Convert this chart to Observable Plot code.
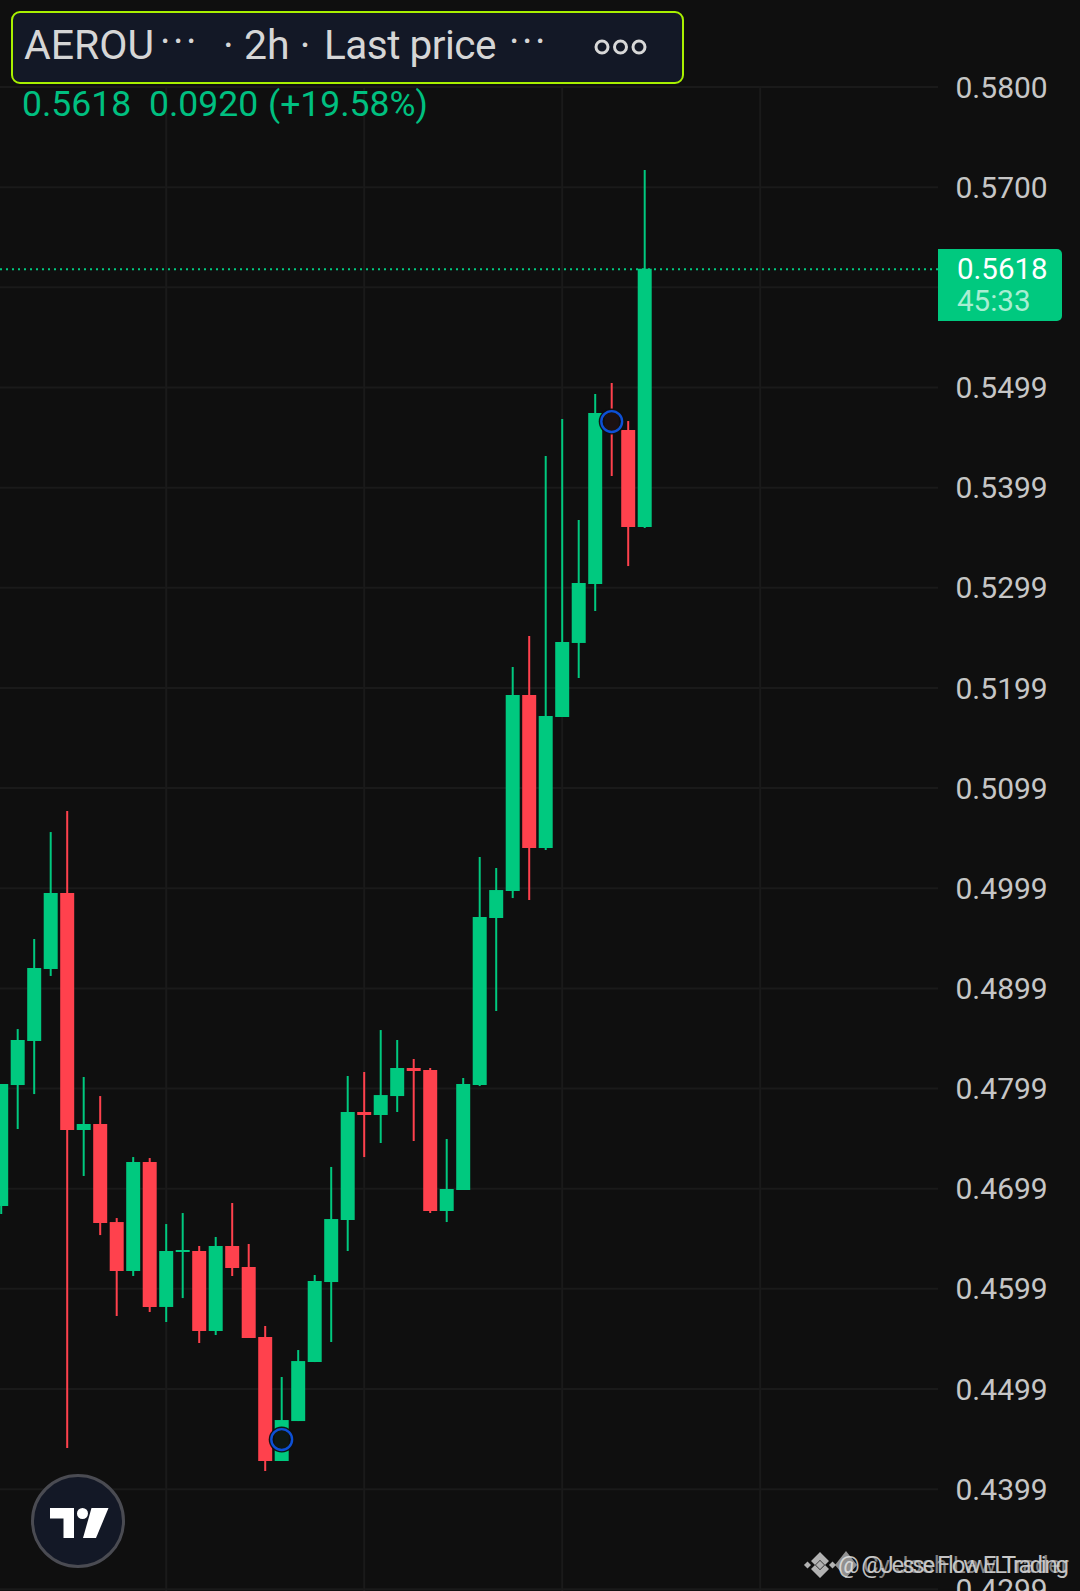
<!DOCTYPE html>
<html>
<head>
<meta charset="utf-8">
<script src="https://cdn.jsdelivr.net/npm/d3@7"></script>
<script src="https://cdn.jsdelivr.net/npm/@observablehq/plot@0.6"></script>
<style>
  html, body { margin: 0; padding: 0; background: #0f0f0f; width: 1080px; height: 1591px; overflow: hidden; }
  #wrap { position: relative; width: 1080px; height: 1591px; overflow: hidden; font-family: Roboto, sans-serif; }
  #chart svg { display: block; }
  .abs { position: absolute; white-space: pre; line-height: 1; }
  #header { position: absolute; left: 11px; top: 11px; width: 669px; height: 69px; background: #131826; border: 2px solid #a8f000; border-radius: 9px; }
  #pricebox { position: absolute; left: 938px; top: 249px; width: 124px; height: 72px; background: #00c97f; border-radius: 0 5px 5px 0; }
</style>
</head>
<body>
<div id="wrap">
  <div id="chart"></div>
  <div id="header"></div>
  <div class="abs" style="left:24px;top:25px;font-size:41px;color:#d6d6d6">AEROU</div>
  <div class="abs" style="left:160px;top:22px;font-size:40px;letter-spacing:2.5px;color:#d6d6d6">···</div>
  <div class="abs" style="left:223px;top:25px;font-size:41px;color:#d6d6d6">· 2h ·</div>
  <div class="abs" style="left:324px;top:25px;font-size:40.5px;letter-spacing:-0.5px;color:#d6d6d6">Last price</div>
  <div class="abs" style="left:509px;top:22px;font-size:40px;letter-spacing:2.5px;color:#d6d6d6">···</div>
  <div class="abs" style="left:22px;top:87px;font-size:35.5px;color:#00c080">0.5618</div>
  <div class="abs" style="left:149px;top:87px;font-size:35.5px;color:#00c080">0.0920</div>
  <div class="abs" style="left:268px;top:87px;font-size:35.5px;color:#00c080">(+19.58%)</div>
  <div id="pricebox"></div>
  <div class="abs" style="left:957px;top:255px;font-size:29.5px;color:#ffffff">0.5618</div>
  <div class="abs" style="left:957px;top:287px;font-size:29.5px;color:#a8eed2">45:33</div>
  <svg class="abs" width="1080" height="1591" style="left:0;top:0;pointer-events:none" xmlns="http://www.w3.org/2000/svg">
    <g fill="none" stroke="#d8d8d8" stroke-width="3">
      <circle cx="602" cy="47" r="6"/><circle cx="620.5" cy="47" r="6"/><circle cx="639" cy="47" r="6"/>
    </g>
    <circle cx="78" cy="1521" r="45.5" fill="#131826" stroke="#4a4b52" stroke-width="3"/>
    <g fill="#ffffff">
      <path d="M50 1508 H74 V1538 H63.5 V1518.5 H50 Z"/>
      <circle cx="82.5" cy="1513.5" r="5.5"/>
      <path d="M91.5 1508 H108.5 L96 1538 H83 Z"/>
    </g>
    <g fill="#c4c4c4" fill-opacity="0.9">
      <path d="M820 1552 L829 1561 L825 1565 L820 1560 L815 1565 L811 1561 Z"/>
      <path d="M820 1578 L829 1569 L825 1565 L820 1570 L815 1565 L811 1569 Z"/>
      <rect x="817" y="1562" width="6" height="6" transform="rotate(45 820 1565)"/>
      <rect x="805" y="1562.5" width="5" height="5" transform="rotate(45 807.5 1565)"/>
      <rect x="830" y="1562.5" width="5" height="5" transform="rotate(45 832.5 1565)"/>
      <path d="M846 1551 L857 1565 L846 1578 L835 1565 Z" opacity="0.8"/>
    </g>
    <g font-family="Roboto, sans-serif" font-size="24">
      <text x="838" y="1573" textLength="231" lengthAdjust="spacing" fill="#e4e4e4" fill-opacity="0.85">@ @Jesse Flow ELTrading</text>
      <text x="863" y="1573" textLength="206" lengthAdjust="spacing" fill="#cfcfcf" fill-opacity="0.6">Cy Josh Law Trader</text>
    </g>
  </svg>
</div>
<script>
// Candles, oldest first
const opens  = [0.46822,0.48030,0.48470,0.49189,0.49947,0.47581,0.47641,0.46662,0.46173,0.47261,0.45814,0.46363,0.46373,0.45574,0.46423,0.46213,0.45514,0.44276,0.44675,0.45264,0.46063,0.46682,0.47761,0.47731,0.47920,0.48200,0.48180,0.46772,0.46982,0.48030,0.49698,0.49967,0.51924,0.50397,0.51705,0.52444,0.53033,0.54740,0.54570,0.53602];
const highs  = [0.48040,0.48589,0.49488,0.50556,0.50766,0.48110,0.47920,0.46702,0.47311,0.47301,0.46642,0.46752,0.46423,0.46513,0.46852,0.46443,0.45624,0.45115,0.45384,0.46133,0.47212,0.48120,0.48160,0.48579,0.48480,0.48290,0.48200,0.47491,0.48100,0.50307,0.50197,0.52204,0.52513,0.54311,0.54680,0.53672,0.54930,0.55040,0.54660,0.57167];
const lows   = [0.46742,0.47591,0.47940,0.49119,0.44406,0.47122,0.46532,0.45724,0.46123,0.45764,0.45664,0.45903,0.45454,0.45534,0.46123,0.45504,0.44176,0.44276,0.44675,0.45264,0.45464,0.46373,0.47311,0.47451,0.47761,0.47471,0.46752,0.46662,0.46982,0.48020,0.48769,0.49897,0.49877,0.50377,0.51705,0.52094,0.52763,0.54111,0.53212,0.53592];
const closes = [0.48040,0.48480,0.49199,0.49947,0.47581,0.47641,0.46652,0.46173,0.47261,0.45814,0.46373,0.46383,0.45574,0.46423,0.46203,0.45504,0.44276,0.44685,0.45274,0.46073,0.46692,0.47761,0.47731,0.47930,0.48200,0.48170,0.46772,0.46992,0.48040,0.49708,0.49977,0.51924,0.50397,0.51715,0.52454,0.53043,0.54740,0.54570,0.53602,0.5618];
const priceTicks  = [0.58,0.57,0.56,0.55,0.54,0.53,0.52,0.51,0.50,0.49,0.48,0.47,0.46,0.45,0.44,0.43];
const priceLabels = ["0.5800","0.5700","","0.5499","0.5399","0.5299","0.5199","0.5099","0.4999","0.4899","0.4799","0.4699","0.4599","0.4499","0.4399","0.4299"];
const dayGrid = [10,22,34,46];
const lastPrice = 0.5618;
const signalBars = [17,37];
const signalPrices = [0.44495,0.5466];

const GREEN = "#00c97f", RED = "#ff414d", BG = "#0f0f0f", GRID = "#1a1a1a";
const candles = opens.map((o,i)=>({i,o,h:highs[i],l:lows[i],c:closes[i],col:closes[i]>=o?GREEN:RED}));
const signals = signalBars.map((i,k)=>({i,p:signalPrices[k]}));

const plot = Plot.plot({
  width: 1080, height: 1591,
  marginLeft: 0, marginRight: 142, marginTop: 0, marginBottom: 0,
  style: {background: BG, fontFamily: "Roboto, sans-serif", overflow: "hidden"},
  x: {domain: [-0.0424, 56.805], axis: null},
  y: {domain: [0.42978, 0.58864]},
  marks: [
    Plot.ruleY(priceTicks, {stroke: GRID, strokeWidth: 2}),
    Plot.ruleX(dayGrid, {y1: 0.58, y2: 0.42978, stroke: GRID, strokeWidth: 2}),
    Plot.ruleX(candles, {x:"i", y1:"l", y2:"h", stroke:"col", strokeWidth:2}),
    Plot.ruleX(candles, {x:"i", y1:"o", y2:"c", stroke:"col", strokeWidth:14}),
    Plot.ruleY([lastPrice], {stroke: GREEN, strokeWidth: 2, strokeDasharray: "2 4"}),
    Plot.dot(signals, {x:"i", y:"p", r:13, fill: BG, fillOpacity:0.95, stroke:"none"}),
    Plot.dot(signals, {x:"i", y:"p", r:10.4, fill: "none", stroke:"#0d50d6", strokeWidth:2.4}),
    Plot.axisY(priceTicks, {
      anchor:"right", label:null, tickSize:0, tickPadding:17,
      tickFormat:(d)=>priceLabels[priceTicks.indexOf(d)],
      fill:"#c6c6c6", fontSize:30, dy:1
    })
  ]
});
document.getElementById("chart").appendChild(plot);
</script>
</body>
</html>
